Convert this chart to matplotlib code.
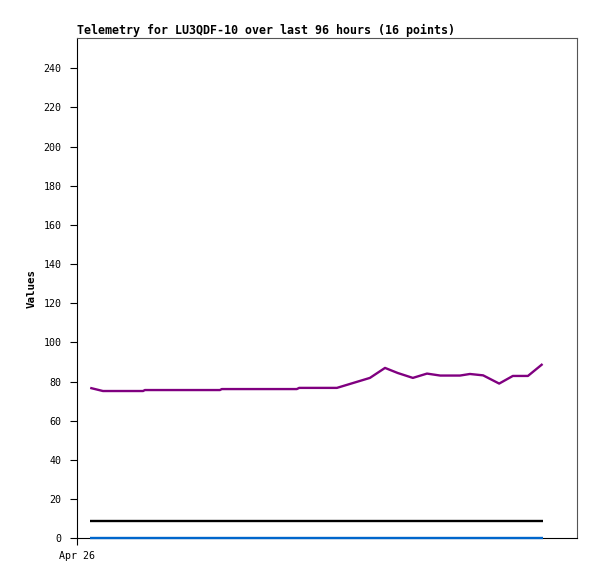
import matplotlib
matplotlib.use("Agg")
import matplotlib.pyplot as plt

# Data (hours since Apr 26 00:00)
hours = [2.8, 5.5, 14.0, 14.4, 30.3, 30.7, 46.6, 47.1, 55.1, 62.1, 65.3, 68.0,
         71.2, 74.2, 77.0, 81.2, 83.3, 86.1, 89.5, 92.4, 95.6, 98.7]
purple_vals = [76.8, 75.2, 75.2, 75.7, 75.7, 76.2, 76.2, 76.8, 76.8, 81.9, 87.0, 84.4,
               81.9, 84.1, 83.1, 83.1, 83.9, 83.2, 79.0, 82.9, 82.9, 89.0]
flat_hours = [2.8, 98.7]
black_vals = [9, 9]
blue_vals = [0, 0]
x_ticks = [0]
x_tick_labels = ["Apr 26"]
y_ticks = list(range(0, 241, 20))
title = "Telemetry for LU3QDF-10 over last 96 hours (16 points)"

W, H = 597, 579
fig = plt.figure(figsize=(W / 100, H / 100), dpi=100)
ax = fig.add_axes([77 / W, (H - 538.3) / H, 500 / W, 500 / H])

ax.plot(hours, purple_vals, color="#800080", lw=1.7, solid_capstyle="butt", zorder=3)
ax.plot(flat_hours, black_vals, color="black", lw=1.7, solid_capstyle="butt", zorder=3)
ax.plot(flat_hours, blue_vals, color="#0066cc", lw=1.7, solid_capstyle="butt", zorder=4, clip_on=False)

ax.set_xlim(0, 106)
ax.set_ylim(0, 255.3)
ax.set_yticks(y_ticks)
ax.set_xticks(x_ticks)
ax.set_xticklabels(x_tick_labels)

mono = "DejaVu Sans Mono"
for lab in ax.get_yticklabels() + ax.get_xticklabels():
    lab.set_family(mono)
    lab.set_fontsize(7.2)

ax.tick_params(axis="y", direction="out", length=5, width=0.8, pad=6, color="black")
ax.tick_params(axis="x", direction="out", length=5, width=0.8, pad=4, color="black")

for s in ["left", "bottom"]:
    ax.spines[s].set_color("black")
    ax.spines[s].set_linewidth(0.8)
for s in ["top", "right"]:
    ax.spines[s].set_color("#555555")
    ax.spines[s].set_linewidth(0.8)

ax.set_title(title, loc="left", family=mono, fontweight="bold", fontsize=8.4, pad=3)
ax.set_ylabel("Values", family=mono, fontweight="bold", fontsize=7.8, labelpad=5)

fig.savefig("out.png", dpi=100)
